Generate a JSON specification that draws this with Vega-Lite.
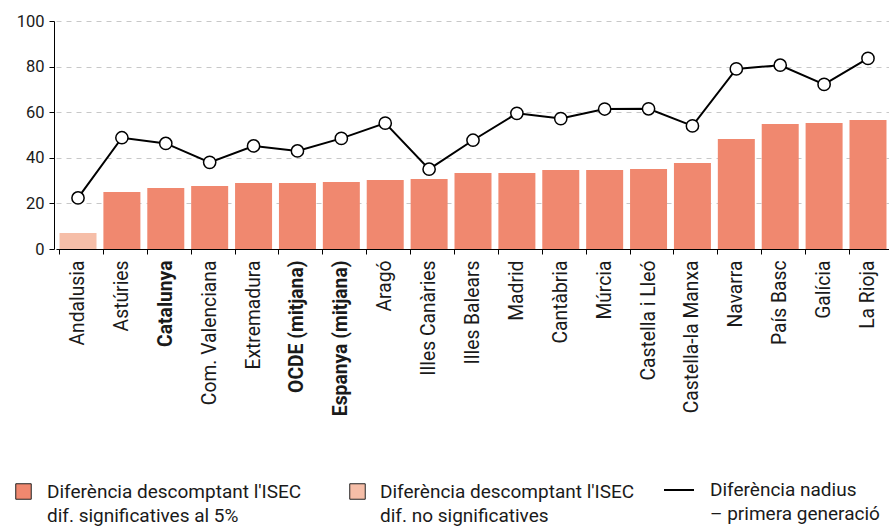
{
  "$schema": "https://vega.github.io/schema/vega-lite/v6.json",
  "width": 834,
  "height": 228,
  "autosize": {"type": "none"},
  "padding": {"left": 56, "top": 21, "right": 0, "bottom": 278},
  "config": {
    "font": "Roboto",
    "view": {"stroke": null},
    "axis": {"labelColor": "#1a1a1a", "labelFont": "Roboto"},
    "legend": {"labelFont": "Roboto", "labelColor": "#1a1a1a", "padding": 0}
  },
  "data": {
    "values": [
      {"region": "Andalusia", "isec": 7.0, "nadius": 22.4, "sig": "no"},
      {"region": "Astúries", "isec": 25.0, "nadius": 48.8, "sig": "si"},
      {"region": "Catalunya", "isec": 26.8, "nadius": 46.3, "sig": "si"},
      {"region": "Com. Valenciana", "isec": 27.6, "nadius": 38.0, "sig": "si"},
      {"region": "Extremadura", "isec": 28.9, "nadius": 45.2, "sig": "si"},
      {"region": "OCDE (mitjana)", "isec": 28.9, "nadius": 43.0, "sig": "si"},
      {"region": "Espanya (mitjana)", "isec": 29.4, "nadius": 48.5, "sig": "si"},
      {"region": "Aragó", "isec": 30.3, "nadius": 55.2, "sig": "si"},
      {"region": "Illes Canàries", "isec": 30.7, "nadius": 35.0, "sig": "si"},
      {"region": "Illes Balears", "isec": 33.3, "nadius": 47.7, "sig": "si"},
      {"region": "Madrid", "isec": 33.3, "nadius": 59.5, "sig": "si"},
      {"region": "Cantàbria", "isec": 34.6, "nadius": 57.2, "sig": "si"},
      {"region": "Múrcia", "isec": 34.6, "nadius": 61.4, "sig": "si"},
      {"region": "Castella i Lleó", "isec": 35.1, "nadius": 61.5, "sig": "si"},
      {"region": "Castella-la Manxa", "isec": 37.7, "nadius": 54.0, "sig": "si"},
      {"region": "Navarra", "isec": 48.2, "nadius": 79.0, "sig": "si"},
      {"region": "País Basc", "isec": 54.8, "nadius": 80.6, "sig": "si"},
      {"region": "Galícia", "isec": 55.3, "nadius": 72.2, "sig": "si"},
      {"region": "La Rioja", "isec": 56.6, "nadius": 83.6, "sig": "si"}
    ]
  },
  "encoding": {
    "x": {
      "field": "region",
      "type": "nominal",
      "sort": null,
      "scale": {
        "domain": ["Andalusia", "Astúries", "Catalunya", "Com. Valenciana", "Extremadura", "OCDE (mitjana)", "Espanya (mitjana)", "Aragó", "Illes Canàries", "Illes Balears", "Madrid", "Cantàbria", "Múrcia", "Castella i Lleó", "Castella-la Manxa", "Navarra", "País Basc", "Galícia", "La Rioja"],
        "paddingInner": 0.157,
        "paddingOuter": 0.08
      },
      "axis": {
        "title": null,
        "labelAngle": -90,
        "labelFontSize": 19.3,
        "labelPadding": 6,
        "tickSize": 5,
        "tickColor": "#000000",
        "domainColor": "#000000",
        "bandPosition": 0,
        "labelFontWeight": {
          "condition": {"test": "indexof(['Catalunya','OCDE (mitjana)','Espanya (mitjana)'], datum.value) >= 0", "value": "bold"},
          "value": "normal"
        }
      }
    }
  },
  "layer": [
    {
      "transform": [{"filter": "datum.sig == 'si'"}],
      "mark": {"type": "bar"},
      "encoding": {
        "y": {
          "field": "isec",
          "type": "quantitative",
          "scale": {"domain": [0, 100]},
          "axis": {
            "title": null,
            "values": [0, 20, 40, 60, 80, 100],
            "labelFontSize": 16.5,
            "labelPadding": 5,
            "tickSize": 5,
            "tickColor": "#000000",
            "domainColor": "#000000",
            "offset": 2,
            "gridColor": "#c8c8c8",
            "gridDash": [5, 5],
            "gridWidth": 1
          }
        },
        "color": {
          "datum": "Diferència descomptant l'ISEC|dif. significatives al 5%",
          "type": "nominal",
          "scale": {"range": ["#f0886f"]},
          "legend": {
            "title": null,
            "orient": "none",
            "legendX": -42,
            "legendY": 461,
            "symbolType": "square",
            "symbolSize": 240,
            "symbolStrokeColor": "#222222",
            "symbolStrokeWidth": 1,
            "labelFontSize": 19,
            "labelOffset": 14,
            "labelLimit": 400,
            "labelExpr": "split(datum.label, '|')",
            "encode": {"labels": {"update": {"lineHeight": {"value": 24}}}}
          }
        }
      }
    },
    {
      "transform": [{"filter": "datum.sig == 'no'"}],
      "mark": {"type": "bar"},
      "encoding": {
        "y": {"field": "isec", "type": "quantitative"},
        "color": {
          "datum": "Diferència descomptant l'ISEC|dif. no significatives",
          "type": "nominal",
          "scale": {"range": ["#f6bea8"]},
          "legend": {
            "title": null,
            "orient": "none",
            "legendX": 292,
            "legendY": 461,
            "symbolType": "square",
            "symbolSize": 240,
            "symbolStrokeColor": "#222222",
            "symbolStrokeWidth": 1,
            "labelFontSize": 19,
            "labelOffset": 13,
            "labelLimit": 400,
            "labelExpr": "split(datum.label, '|')",
            "encode": {"labels": {"update": {"lineHeight": {"value": 24}}}}
          }
        }
      }
    },
    {
      "mark": {"type": "line", "color": "#000000", "strokeWidth": 2},
      "encoding": {
        "y": {"field": "nadius", "type": "quantitative"},
        "stroke": {
          "datum": "Diferència nadius|– primera generació",
          "type": "nominal",
          "scale": {"range": ["#000000"]},
          "legend": {
            "title": null,
            "orient": "none",
            "legendX": 607,
            "legendY": 453,
            "symbolType": "stroke",
            "symbolSize": 900,
            "symbolStrokeWidth": 2,
            "labelFontSize": 19,
            "labelOffset": 15,
            "labelLimit": 400,
            "labelExpr": "split(datum.label, '|')",
            "encode": {"labels": {"update": {"lineHeight": {"value": 24}}}}
          }
        }
      }
    },
    {
      "mark": {"type": "point", "filled": true, "fill": "#ffffff", "stroke": "#000000", "strokeWidth": 1.5, "size": 150, "opacity": 1},
      "encoding": {
        "y": {"field": "nadius", "type": "quantitative"}
      }
    }
  ],
  "resolve": {"scale": {"color": "independent"}}
}
